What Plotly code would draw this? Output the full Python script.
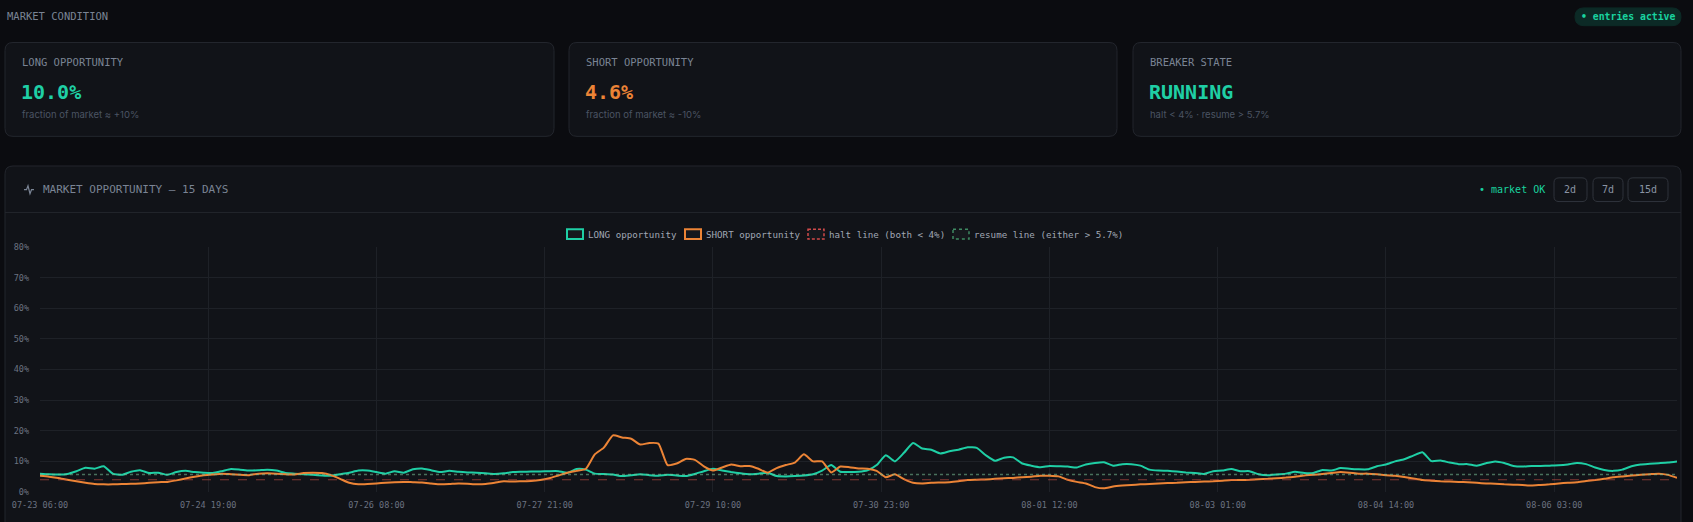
import pandas as pd
import plotly.graph_objects as go

W, H = 1693, 522
# plot area in page pixels
PLOT_L, PLOT_R, PLOT_T, PLOT_B = 40, 1677, 247, 495

MONO = "DejaVu Sans Mono"
SANS = "Inter"
BG = "#0b0c10"
CARD = "#111318"
BORDER = "#23262d"
MUTED = "#7a8494"
TEAL = "#1fcfa5"
ORANGE = "#ec8436"

# ---- data -------------------------------------------------------------
START = "2025-07-23 06:00"
STEP_HOURS = 2

# one row = 24 hours (12 points of 2h)
LONG_PCT = [
    6.0, 5.8, 5.7, 5.9, 6.8, 7.9, 7.6, 8.4, 6.0, 5.6, 6.6, 7.1,
    6.2, 6.3, 5.6, 6.5, 6.9, 6.5, 6.3, 6.2, 6.8, 7.5, 7.3, 7.0,
    7.1, 7.3, 7.0, 6.2, 6.0, 5.8, 5.6, 5.4, 5.3, 5.8, 6.3, 7.0,
    7.0, 6.5, 6.0, 6.8, 6.3, 7.4, 7.7, 7.1, 6.5, 6.9, 6.6, 6.4,
    6.3, 6.1, 5.9, 6.1, 6.5, 6.6, 6.7, 6.7, 6.8, 6.8, 6.3, 7.5,
    7.3, 6.0, 5.9, 5.7, 5.2, 5.5, 5.8, 5.5, 5.3, 5.6, 5.4, 5.2,
    5.9, 6.8, 7.6, 7.0, 6.5, 6.1, 5.8, 6.0, 6.3, 5.2, 5.1, 5.2,
    5.4, 5.8, 7.0, 8.8, 6.6, 6.5, 6.6, 7.1, 8.8, 12.0, 10.0, 12.8,
    16.0, 14.2, 13.8, 12.6, 13.3, 13.8, 14.6, 14.4, 12.0, 10.2, 11.2, 11.3,
    9.3, 8.6, 8.1, 8.5, 8.4, 8.3, 8.0, 9.0, 9.5, 9.7, 8.6, 9.1,
    9.1, 8.6, 7.3, 7.0, 6.9, 6.7, 6.4, 6.2, 5.9, 6.8, 7.0, 7.5,
    6.8, 6.8, 5.8, 5.5, 5.7, 6.0, 6.6, 6.2, 6.2, 7.2, 7.0, 7.8,
    7.6, 7.4, 7.4, 8.4, 9.0, 10.0, 10.7, 11.9, 13.0, 10.1, 10.3, 9.6,
    9.1, 9.1, 8.6, 9.4, 10.0, 9.5, 8.5, 8.3, 8.5, 8.5, 8.6, 8.7,
    9.0, 9.5, 9.1, 8.0, 7.2, 6.9, 7.3, 8.4, 9.0, 9.2, 9.4, 9.6,
    10.0,
]
SHORT_PCT = [
    5.3, 5.0, 4.6, 4.0, 3.5, 3.0, 2.6, 2.5, 2.5, 2.6, 2.7, 2.8,
    3.0, 3.2, 3.3, 3.8, 4.4, 5.0, 5.5, 5.7, 6.0, 5.8, 5.6, 5.5,
    6.0, 6.1, 6.0, 5.8, 5.7, 6.2, 6.3, 6.2, 5.5, 4.3, 3.0, 2.5,
    2.6, 2.8, 3.0, 3.2, 3.3, 3.2, 3.1, 2.8, 2.5, 2.6, 2.8, 2.7,
    2.5, 2.6, 3.0, 3.5, 3.4, 3.5, 3.6, 3.9, 4.5, 5.4, 6.3, 6.9,
    7.5, 12.3, 14.5, 18.5, 17.8, 17.4, 15.5, 16.0, 15.8, 8.8, 9.3, 10.8,
    10.5, 8.4, 7.0, 8.0, 9.0, 8.4, 8.5, 7.6, 6.3, 7.8, 8.8, 9.6,
    12.3, 10.0, 10.0, 6.4, 8.3, 8.1, 7.7, 7.6, 6.9, 4.8, 5.8, 4.2,
    3.0, 2.8, 3.0, 3.1, 3.2, 3.5, 3.9, 4.0, 4.1, 4.3, 4.5, 4.6,
    4.8, 5.0, 5.3, 5.3, 5.1, 4.0, 3.3, 2.8, 1.6, 1.2, 1.8, 2.1,
    2.3, 2.5, 2.6, 2.8, 2.9, 3.0, 3.2, 3.3, 3.4, 3.5, 3.7, 3.9,
    3.9, 4.0, 4.2, 4.3, 4.5, 4.7, 5.0, 5.4, 5.6, 5.9, 6.2, 6.5,
    6.3, 6.0, 6.0, 5.8, 5.5, 5.3, 4.9, 4.4, 3.9, 3.7, 3.5, 3.4,
    3.3, 3.2, 3.0, 2.8, 2.7, 2.5, 2.4, 2.3, 2.1, 2.3, 2.5, 2.8,
    3.0, 3.2, 3.6, 3.9, 4.3, 4.8, 5.1, 5.4, 5.6, 5.8, 6.0, 5.6,
    4.6,
]
HALT_LEVEL = 4.0
RESUME_LEVEL = 5.7

X_TICK_LABELS = ["07-23 06:00", "07-24 19:00", "07-26 08:00", "07-27 21:00",
                 "07-29 10:00", "07-30 23:00", "08-01 12:00", "08-03 01:00",
                 "08-04 14:00", "08-06 03:00"]
Y_TICKS = [0, 10, 20, 30, 40, 50, 60, 70, 80]

CARD_TITLES = ["LONG OPPORTUNITY", "SHORT OPPORTUNITY", "BREAKER STATE"]
CARD_VALUES = ["10.0%", "4.6%", "RUNNING"]
CARD_NOTES = ["fraction of market \u2248 +10%", "fraction of market \u2248 -10%",
              "halt < 4% \u00b7 resume > 5.7%"]
RANGE_BUTTONS = ["2d", "7d", "15d"]
LEGEND_NAMES = ["LONG opportunity", "SHORT opportunity",
                "halt line (both < 4%)", "resume line (either > 5.7%)"]


# ---- helpers: page pixels -> paper coords ------------------------------
def fx(x):
    return round((x - PLOT_L) / (PLOT_R - PLOT_L), 5)


def fy(y):
    return round((PLOT_B - y) / (PLOT_B - PLOT_T), 5)


def rounded(x0, y0, x1, y1, r):
    return (f"M{fx(x0 + r)},{fy(y0)} L{fx(x1 - r)},{fy(y0)} "
            f"Q{fx(x1)},{fy(y0)} {fx(x1)},{fy(y0 + r)} L{fx(x1)},{fy(y1 - r)} "
            f"Q{fx(x1)},{fy(y1)} {fx(x1 - r)},{fy(y1)} L{fx(x0 + r)},{fy(y1)} "
            f"Q{fx(x0)},{fy(y1)} {fx(x0)},{fy(y1 - r)} L{fx(x0)},{fy(y0 + r)} "
            f"Q{fx(x0)},{fy(y0)} {fx(x0 + r)},{fy(y0)} Z")


shapes = []
annotations = []


def box(x0, y0, x1, y1, r=8, fill=CARD, line=BORDER, width=1, dash="solid"):
    shapes.append(dict(type="path", xref="paper", yref="paper", layer="below",
                       path=rounded(x0, y0, x1, y1, r), fillcolor=fill,
                       line=dict(color=line, width=width, dash=dash)))


def text(x, y, s, size, color, anchor="left", family=MONO, weight="normal"):
    annotations.append(dict(x=fx(x), y=fy(y), xref="paper", yref="paper", text=s,
                            showarrow=False, xanchor=anchor, yanchor="middle",
                            font=dict(family=family, size=size, color=color, weight=weight)))


# ---- page chrome ------------------------------------------------------
text(5, 13, "MARKET CONDITION", 10.5, MUTED)
box(1575, 5, 1681, 23, r=9, fill="#0c2a26", line="#0c2a26")
text(1628, 14, "\u2022 entries active", 9.8, "#19d39f", anchor="center", weight="bold")

card_x = [(5, 554), (569, 1117), (1133, 1681)]
value_colors = [TEAL, ORANGE, TEAL]
for (x0, x1), title, value, note, col in zip(card_x, CARD_TITLES, CARD_VALUES, CARD_NOTES, value_colors):
    box(x0, 40, x1, 135)
    text(x0 + 15, 60, title, 10.5, MUTED)
    text(x0 + 14, 90, value, 20, col, weight="bold")
    text(x0 + 15, 113, note, 9.5, "#4b5363", family=SANS)

# chart panel
box(5, 165, 1681, 560)
shapes.append(dict(type="line", xref="paper", yref="paper", layer="below",
                   x0=fx(5), x1=fx(1681), y0=fy(212), y1=fy(212),
                   line=dict(color=BORDER, width=1)))
icon = [(24, 189), (26.5, 189), (28, 185), (30, 193), (31.5, 189), (34, 189)]
shapes.append(dict(type="path", xref="paper", yref="paper",
                   path="M" + " L".join(f"{fx(a)},{fy(b)}" for a, b in icon),
                   line=dict(color=MUTED, width=1.2)))
text(41, 189, "MARKET OPPORTUNITY \u2014 15 DAYS", 11, MUTED)
text(1477, 189, "\u2022 market OK", 10, "#19d39f")
btn_x = [(1554, 1587), (1593, 1623), (1628, 1668)]
for (x0, x1), lab in zip(btn_x, RANGE_BUTTONS):
    box(x0, 177, x1, 201, r=5, fill=CARD, line="#30343c")
    text((x0 + x1) / 2, 189, lab, 10, "#8a93a3", anchor="center")

# legend drawn as boxes + labels
leg_x = [567, 685, 808, 953]
leg_style = [(TEAL, "solid", 2), (ORANGE, "solid", 2), ("#d04a4a", "3px,2px", 1.5), ("#3f8a62", "dot", 1.5)]
for x0, name, (col, dash, lw) in zip(leg_x, LEGEND_NAMES, leg_style):
    shapes.append(dict(type="rect", xref="paper", yref="paper",
                       x0=fx(x0), x1=fx(x0 + 16), y0=fy(229), y1=fy(239),
                       fillcolor="#16181d", line=dict(color=col, width=lw, dash=dash)))
    text(x0 + 19, 234, name, 9.2, "#a0a7b4")

# ---- traces -----------------------------------------------------------
times = pd.date_range(START, periods=len(LONG_PCT), freq=f"{STEP_HOURS}h")
tickvals = pd.to_datetime(["2025-" + s for s in X_TICK_LABELS], format="%Y-%m-%d %H:%M")

fig = go.Figure()
fig.add_trace(go.Scatter(x=times, y=LONG_PCT, name=LEGEND_NAMES[0], mode="lines",
                         line=dict(color=TEAL, width=2, shape="spline", smoothing=0.5)))
fig.add_trace(go.Scatter(x=times, y=SHORT_PCT, name=LEGEND_NAMES[1], mode="lines",
                         line=dict(color=ORANGE, width=2, shape="spline", smoothing=0.5)))
fig.add_trace(go.Scatter(x=[times[0], times[-1]], y=[HALT_LEVEL, HALT_LEVEL], name=LEGEND_NAMES[2],
                         mode="lines", line=dict(color="rgba(205,80,70,0.6)", width=1.2, dash="dash")))
fig.add_trace(go.Scatter(x=[times[0], times[-1]], y=[RESUME_LEVEL, RESUME_LEVEL], name=LEGEND_NAMES[3],
                         mode="lines", line=dict(color="rgba(120,190,150,0.55)", width=1.5, dash="dot")))

fig.update_xaxes(range=[times[0], times[-1]], tickvals=tickvals, ticktext=X_TICK_LABELS,
                 showgrid=True, gridcolor="#1e2127", gridwidth=1, zeroline=False, showline=False,
                 ticks="", ticklabelstandoff=6,
                 tickfont=dict(family=MONO, size=8.5, color="#6b7280"))
fig.update_yaxes(range=[0, 80], tickvals=Y_TICKS, ticktext=[f"{v}%" for v in Y_TICKS],
                 showgrid=True, gridcolor="#1e2127", gridwidth=1, zeroline=False, showline=False,
                 ticks="", ticklabelstandoff=10,
                 tickfont=dict(family=MONO, size=8.5, color="#6b7280"))

fig.update_layout(
    width=W, height=H, autosize=False,
    margin=dict(l=PLOT_L, r=W - PLOT_R, t=PLOT_T, b=H - PLOT_B, pad=0),
    paper_bgcolor=BG, plot_bgcolor=CARD,
    showlegend=False, hovermode="x unified",
    shapes=shapes, annotations=annotations,
)

fig.write_html("out.html", config={"displayModeBar": False},
               post_script="document.body.style.margin='0';")
